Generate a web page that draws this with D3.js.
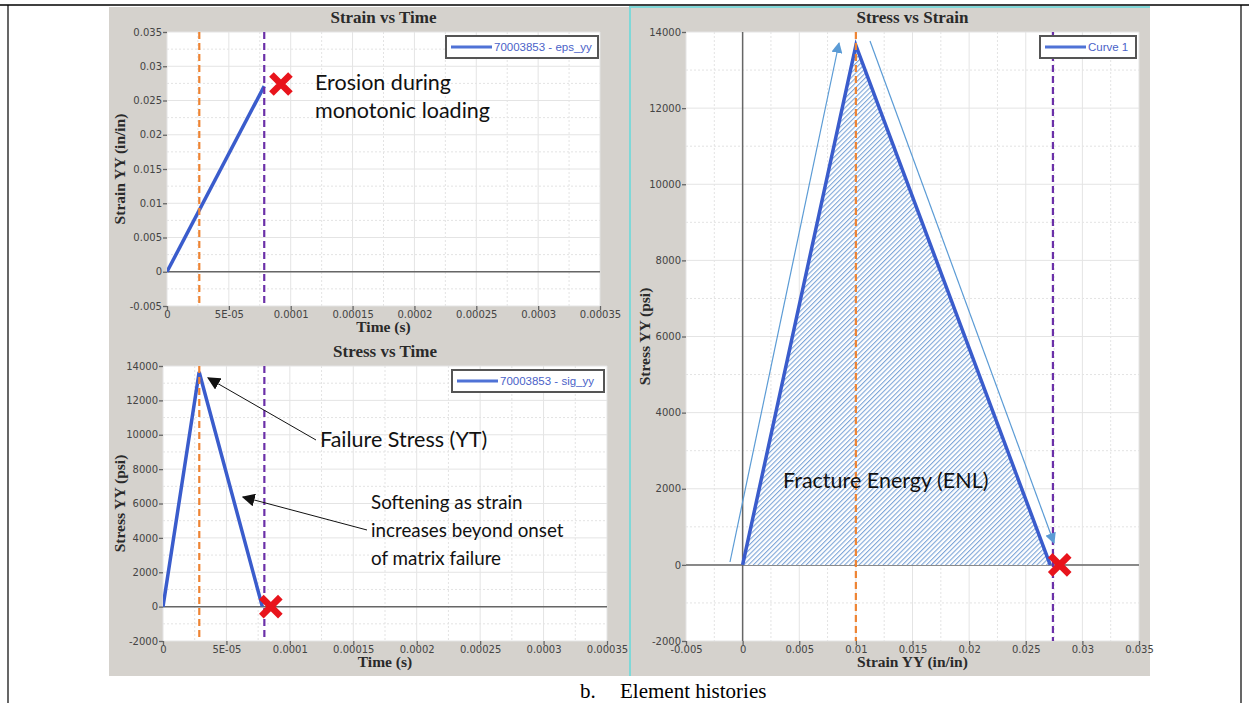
<!DOCTYPE html>
<html>
<head>
<meta charset="utf-8">
<script src="https://cdn.jsdelivr.net/npm/d3@7"></script>
<style>
  body { margin: 0; background: #fff; }
  svg { display: block; }
</style>
</head>
<body>
<svg id="fig" width="1249" height="703"></svg>
<script>
// ---- axis ticks ----
const timeTicks = [0, 0.00005, 0.0001, 0.00015, 0.0002, 0.00025, 0.0003, 0.00035];
const timeTickLabels = ["0", "5E-05", "0.0001", "0.00015", "0.0002", "0.00025", "0.0003", "0.00035"];
const strainTicks = [-0.005, 0, 0.005, 0.01, 0.015, 0.02, 0.025, 0.03, 0.035];
const strainTickLabels = ["-0.005", "0", "0.005", "0.01", "0.015", "0.02", "0.025", "0.03", "0.035"];
const stressTicks = [-2000, 0, 2000, 4000, 6000, 8000, 10000, 12000, 14000];
const stressTickLabels = ["-2000", "0", "2000", "4000", "6000", "8000", "10000", "12000", "14000"];

// ---- element 70003853 histories ----
const strainTime = [0, 0.0000786];
const strainYY = [0, 0.0271];
const stressTime = [0, 0.0000285, 0.0000783];
const stressYY = [0, 13650, 0];

// ---- stress vs strain curve ----
const curveStrain = [0, 0.0100, 0.02716];
const curveStress = [0, 13650, 0];

// ---- reference lines: [peak stress, erosion] ----
const strainTimeMarks = [0.0000261, 0.0000786];
const stressTimeMarks = [0.0000286, 0.0000799];
const strainMarks = [0.0100, 0.0274];

// ---- erosion markers ----
const erosionStrainTime = [0.0000921, 0.0274];
const erosionStressTime = [0.0000850, 0];
const erosionCurve = [0.0280, 0];

const svg = d3.select("#fig");
const PANEL = "#d5d2cd";
const BLUE = "#3a5ccc";
const ORANGE = "#ee8433";
const PURPLE = "#6b30a8";
const SERIF = "'Liberation Serif', 'Times New Roman', serif";
const TICK_FONT = "'DejaVu Sans', Verdana, sans-serif";

// page frame
svg.append("rect").attr("x", 109).attr("y", 7).attr("width", 520).attr("height", 669).attr("fill", PANEL);
svg.append("rect").attr("x", 630).attr("y", 7).attr("width", 520).attr("height", 669).attr("fill", PANEL);
svg.append("line").attr("x1", 630).attr("x2", 630).attr("y1", 6).attr("y2", 676)
  .attr("stroke", "#7fd8d8").attr("stroke-width", 2);
svg.append("line").attr("x1", 630).attr("x2", 1150).attr("y1", 7).attr("y2", 7)
  .attr("stroke", "#7fd8d8").attr("stroke-width", 2);
svg.append("line").attr("x1", 0).attr("x2", 1249).attr("y1", 5).attr("y2", 5)
  .attr("stroke", "#000").attr("stroke-width", 1.5);
svg.append("line").attr("x1", 8).attr("x2", 8).attr("y1", 5).attr("y2", 703)
  .attr("stroke", "#000").attr("stroke-width", 1.2);
svg.append("line").attr("x1", 1241).attr("x2", 1241).attr("y1", 5).attr("y2", 703)
  .attr("stroke", "#000").attr("stroke-width", 1.2);

// shared defs
const defs = svg.append("defs");
function arrowMarker(id, color, size) {
  defs.append("marker").attr("id", id)
    .attr("viewBox", "0 0 10 10").attr("refX", 9).attr("refY", 5)
    .attr("markerWidth", size).attr("markerHeight", size)
    .attr("markerUnits", "userSpaceOnUse")
    .attr("orient", "auto")
    .append("path").attr("d", "M0,0 L10,5 L0,10 z").attr("fill", color);
}
arrowMarker("arrowBlack", "#111", 13);
arrowMarker("arrowBlue", "#5b9bd5", 11);

const hatch = defs.append("pattern").attr("id", "hatch")
  .attr("patternUnits", "userSpaceOnUse").attr("width", 3.4).attr("height", 3.4)
  .attr("patternTransform", "rotate(45)");
hatch.append("rect").attr("width", 3.4).attr("height", 3.4).attr("fill", "#ffffff");
hatch.append("rect").attr("x", 0).attr("y", 0).attr("width", 1.1).attr("height", 3.4)
  .attr("fill", "#7ea6d8");

function mids(t) { return t.slice(1).map((v, i) => (v + t[i]) / 2); }

function chart(cfg) {
  const g = svg.append("g");
  const x = d3.scaleLinear().domain([cfg.xTicks[0], cfg.xTicks[cfg.xTicks.length - 1]]).range([cfg.left, cfg.right]);
  const y = d3.scaleLinear().domain([cfg.yTicks[0], cfg.yTicks[cfg.yTicks.length - 1]]).range([cfg.bottom, cfg.top]);
  const clipId = "clip" + cfg.id;
  defs.append("clipPath").attr("id", clipId).append("rect")
    .attr("x", cfg.left).attr("y", cfg.top).attr("width", cfg.right - cfg.left).attr("height", cfg.bottom - cfg.top);

  g.append("rect").attr("x", cfg.left).attr("y", cfg.top)
    .attr("width", cfg.right - cfg.left).attr("height", cfg.bottom - cfg.top).attr("fill", "#fff");

  // grid: minor dotted, major solid
  const grid = g.append("g");
  grid.selectAll(".mx").data(mids(cfg.xTicks)).join("line")
    .attr("x1", d => x(d)).attr("x2", d => x(d)).attr("y1", cfg.top).attr("y2", cfg.bottom)
    .attr("stroke", "#e3e3e3").attr("stroke-dasharray", "2,2");
  grid.selectAll(".my").data(mids(cfg.yTicks)).join("line")
    .attr("y1", d => y(d)).attr("y2", d => y(d)).attr("x1", cfg.left).attr("x2", cfg.right)
    .attr("stroke", "#e3e3e3").attr("stroke-dasharray", "2,2");
  grid.selectAll(".Mx").data(cfg.xTicks).join("line")
    .attr("x1", d => x(d)).attr("x2", d => x(d)).attr("y1", cfg.top).attr("y2", cfg.bottom)
    .attr("stroke", "#e4e4e4");
  grid.selectAll(".My").data(cfg.yTicks).join("line")
    .attr("y1", d => y(d)).attr("y2", d => y(d)).attr("x1", cfg.left).attr("x2", cfg.right)
    .attr("stroke", "#e4e4e4");

  // zero axes
  g.append("line").attr("x1", cfg.left).attr("x2", cfg.right).attr("y1", y(0)).attr("y2", y(0))
    .attr("stroke", "#666").attr("stroke-width", 1.5);
  if (cfg.zeroX) {
    g.append("line").attr("x1", x(0)).attr("x2", x(0)).attr("y1", cfg.top).attr("y2", cfg.bottom)
      .attr("stroke", "#666").attr("stroke-width", 1.5);
  }

  // axes
  const fmtX = (d, i) => cfg.xLabels[i];
  const fmtY = (d, i) => cfg.yLabels[i];
  const ax = g.append("g").attr("transform", `translate(0,${cfg.bottom})`)
    .call(d3.axisBottom(x).tickValues(cfg.xTicks).tickFormat(fmtX).tickSize(4).tickPadding(1));
  const ay = g.append("g").attr("transform", `translate(${cfg.left},0)`)
    .call(d3.axisLeft(y).tickValues(cfg.yTicks).tickFormat(fmtY).tickSize(4).tickPadding(1));
  [ax, ay].forEach(a => {
    a.select(".domain").remove();
    a.selectAll("line").attr("stroke", "#666").attr("stroke-width", 1.3);
    a.selectAll("text").attr("font-family", TICK_FONT)
      .attr("font-size", 10).attr("fill", "#444");
  });

  // titles
  const cx = (cfg.left + cfg.right) / 2;
  g.append("text").attr("x", cx).attr("y", cfg.top - 9).attr("text-anchor", "middle")
    .attr("font-family", SERIF).attr("font-weight", "bold")
    .attr("font-size", 17).attr("fill", "#2a2a2a").text(cfg.title);
  g.append("text").attr("x", cx).attr("y", cfg.bottom + 26).attr("text-anchor", "middle")
    .attr("font-family", SERIF).attr("font-weight", "bold")
    .attr("font-size", 15.5).attr("fill", "#2a2a2a").text(cfg.xTitle);
  g.append("text")
    .attr("transform", `translate(${cfg.yTitleX},${(cfg.top + cfg.bottom) / 2}) rotate(-90)`)
    .attr("text-anchor", "middle")
    .attr("font-family", SERIF).attr("font-weight", "bold")
    .attr("font-size", 15.5).attr("fill", "#2a2a2a").text(cfg.yTitle);

  const plot = g.append("g").attr("clip-path", `url(#${clipId})`);
  return { g, plot, x, y, cfg };
}

function legend(c, lx, ly, w, label) {
  const lg = c.g.append("g");
  lg.append("rect").attr("x", lx).attr("y", ly).attr("width", w).attr("height", 22)
    .attr("fill", "#fff").attr("stroke", "#555").attr("stroke-width", 2);
  lg.append("line").attr("x1", lx + 5).attr("x2", lx + 46).attr("y1", ly + 11).attr("y2", ly + 11)
    .attr("stroke", "#4f72d6").attr("stroke-width", 3);
  lg.append("text").attr("x", lx + 48).attr("y", ly + 15)
    .attr("font-family", "'Liberation Sans', Arial, sans-serif").attr("font-size", 11.5)
    .attr("fill", "#4a62c8").text(label);
}

function markLines(c, vals) {
  const cols = [ORANGE, PURPLE];
  c.plot.selectAll(".mk").data(vals).join("line")
    .attr("x1", d => c.x(d)).attr("x2", d => c.x(d))
    .attr("y1", c.cfg.top).attr("y2", c.cfg.bottom)
    .attr("stroke", (d, i) => cols[i]).attr("stroke-width", 2.2).attr("stroke-dasharray", "7,4");
}

function erosionMark(c, px, py) {
  const cx = c.x(px), cy = c.y(py), r = 9.5;
  c.g.append("path").attr("d", `M${cx - r},${cy - r}L${cx + r},${cy + r}M${cx + r},${cy - r}L${cx - r},${cy + r}`)
    .attr("stroke", "#e8141c").attr("stroke-width", 6.5).attr("fill", "none");
}

const ANNOT_FONT = "Lato, 'Open Sans', sans-serif";
function annot(x0, y0, lines, size, gap) {
  lines.forEach((t, i) => {
    svg.append("text").attr("x", x0).attr("y", y0 + i * gap)
      .attr("font-family", ANNOT_FONT).attr("font-size", size).attr("fill", "#111").text(t);
  });
}

// ---- Strain vs Time ----
const c1 = chart({
  id: 1, left: 167, right: 600, top: 32, bottom: 306,
  xTicks: timeTicks, xLabels: timeTickLabels, yTicks: strainTicks, yLabels: strainTickLabels,
  title: "Strain vs Time", xTitle: "Time (s)", yTitle: "Strain YY (in/in)", yTitleX: 125
});
c1.plot.append("path")
  .datum(strainTime.map((t, i) => [t, strainYY[i]]))
  .attr("d", d3.line().x(d => c1.x(d[0])).y(d => c1.y(d[1])))
  .attr("fill", "none").attr("stroke", BLUE).attr("stroke-width", 3.5);
legend(c1, 446, 36, 152, "70003853 - eps_yy");
markLines(c1, strainTimeMarks);
erosionMark(c1, erosionStrainTime[0], erosionStrainTime[1]);
annot(315, 90, ["Erosion during", "monotonic loading"], 21.5, 28);

// ---- Stress vs Time ----
const c2 = chart({
  id: 2, left: 163, right: 607, top: 366, bottom: 641,
  xTicks: timeTicks, xLabels: timeTickLabels, yTicks: stressTicks, yLabels: stressTickLabels,
  title: "Stress vs Time", xTitle: "Time (s)", yTitle: "Stress YY (psi)", yTitleX: 125
});
c2.plot.append("path")
  .datum(stressTime.map((t, i) => [t, stressYY[i]]))
  .attr("d", d3.line().x(d => c2.x(d[0])).y(d => c2.y(d[1])))
  .attr("fill", "none").attr("stroke", BLUE).attr("stroke-width", 3.5).attr("stroke-linejoin", "miter");
legend(c2, 452, 370, 152, "70003853 - sig_yy");
markLines(c2, stressTimeMarks);
erosionMark(c2, erosionStressTime[0], erosionStressTime[1]);

// annotation arrows
const peakX = c2.x(stressTime[1]), peakY = c2.y(stressYY[1]);
svg.append("line").attr("x1", 316).attr("y1", 440).attr("x2", peakX + 9).attr("y2", peakY + 6)
  .attr("stroke", "#111").attr("stroke-width", 1).attr("marker-end", "url(#arrowBlack)");
svg.append("line").attr("x1", 367).attr("y1", 530).attr("x2", 243).attr("y2", 497)
  .attr("stroke", "#111").attr("stroke-width", 1).attr("marker-end", "url(#arrowBlack)");
annot(320, 447, ["Failure Stress (YT)"], 21.5, 28);
annot(371, 509, ["Softening as strain", "increases beyond onset", "of matrix failure"], 18.8, 28);

// ---- Stress vs Strain ----
const c3 = chart({
  id: 3, left: 686, right: 1139, top: 32, bottom: 641, zeroX: true,
  xTicks: strainTicks, xLabels: strainTickLabels, yTicks: stressTicks, yLabels: stressTickLabels,
  title: "Stress vs Strain", xTitle: "Strain YY (in/in)", yTitle: "Stress YY (psi)", yTitleX: 650
});
const curvePts = curveStrain.map((e, i) => [e, curveStress[i]]);
const curveLine = d3.line().x(d => c3.x(d[0])).y(d => c3.y(d[1]));
c3.plot.append("path").datum(curvePts)
  .attr("d", d => curveLine(d) + "Z")
  .attr("fill", "url(#hatch)").attr("stroke", "none");
c3.plot.append("path").datum(curvePts)
  .attr("d", curveLine)
  .attr("fill", "none").attr("stroke", BLUE).attr("stroke-width", 3.5);
legend(c3, 1040, 36, 96, "Curve 1");
markLines(c3, strainMarks);

// loading / unloading direction arrows
svg.append("line").attr("x1", 730).attr("y1", 562).attr("x2", 839).attr("y2", 43)
  .attr("stroke", "#5b9bd5").attr("stroke-width", 1.2).attr("marker-end", "url(#arrowBlue)");
svg.append("line").attr("x1", 870).attr("y1", 41).attr("x2", 1054).attr("y2", 543)
  .attr("stroke", "#5b9bd5").attr("stroke-width", 1.2).attr("marker-end", "url(#arrowBlue)");
erosionMark(c3, erosionCurve[0], erosionCurve[1]);
annot(783, 488, ["Fracture Energy (ENL)"], 21.5, 28);

// caption
svg.append("text").attr("x", 580).attr("y", 698)
  .attr("font-family", SERIF).attr("font-size", 21).attr("fill", "#000").text("b.");
svg.append("text").attr("x", 620).attr("y", 698)
  .attr("font-family", SERIF).attr("font-size", 21).attr("fill", "#000").text("Element histories");
</script>
</body>
</html>
